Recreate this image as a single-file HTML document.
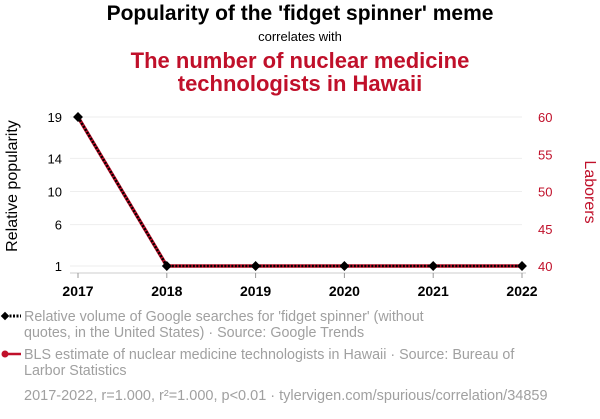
<!DOCTYPE html>
<html><head><meta charset="utf-8"><style>
body{margin:0;width:600px;height:414px;background:#fff;font-family:"Liberation Sans",sans-serif;overflow:hidden}
svg text{font-family:"Liberation Sans",sans-serif}
</style></head><body>
<svg width="600" height="414">
<text x="300" y="20" text-anchor="middle" font-size="21" font-weight="bold" fill="#000">Popularity of the 'fidget spinner' meme</text>
<text x="300" y="41" text-anchor="middle" font-size="13" fill="#000">correlates with</text>
<text x="300" y="68" text-anchor="middle" font-size="22" font-weight="bold" fill="#c0102a">The number of nuclear medicine</text>
<text x="300" y="91" text-anchor="middle" font-size="22" font-weight="bold" fill="#c0102a">technologists in Hawaii</text>
<g id="grid"></g>
<g id="axes"></g>
<g id="series"></g>
<text transform="translate(17,186) rotate(-90)" text-anchor="middle" font-size="16" fill="#000">Relative popularity</text>
<text transform="translate(585,192) rotate(90)" text-anchor="middle" font-size="16" fill="#c0102a">Laborers</text>
<g>
<line x1="6" y1="316" x2="21" y2="316" stroke="#000" stroke-width="3" stroke-dasharray="2,1.5"/>
<rect x="2" y="313" width="6" height="6" transform="rotate(45 5 316)" fill="#000"/>
<text x="24" y="321" font-size="14.3" fill="#a0a0a0">Relative volume of Google searches for 'fidget spinner' (without</text>
<text x="24" y="337" font-size="14.3" fill="#a0a0a0">quotes, in the United States) · Source: Google Trends</text>
</g>
<g>
<line x1="4" y1="354" x2="21" y2="354" stroke="#c0102a" stroke-width="2.5"/>
<circle cx="5" cy="354" r="3.5" fill="#c0102a"/>
<text x="24" y="359" font-size="14.3" fill="#a0a0a0">BLS estimate of nuclear medicine technologists in Hawaii · Source: Bureau of</text>
<text x="24" y="375" font-size="14.3" fill="#a0a0a0">Larbor Statistics</text>
</g>
<text x="24" y="400" font-size="14.5" fill="#a0a0a0">2017-2022, r=1.000, r²=1.000, p&lt;0.01 · tylervigen.com/spurious/correlation/34859</text>
</svg>
<script>
const years=[2017,2018,2019,2020,2021,2022];
const googleVals=[19,1,1,1,1,1];
const blsVals=[60,40,40,40,40,40];
const leftTicks=[1,6,10,14,19];
const rightTicks=[40,45,50,55,60];
const NS="http://www.w3.org/2000/svg";
const X0=78,X1=522,YT=117,YB=266;
const xs=y=>X0+(y-years[0])/(years[years.length-1]-years[0])*(X1-X0);
const yl=v=>YB-(v-1)/(19-1)*(YB-YT);
const yr=v=>YB-(v-40)/(60-40)*(YB-YT);
function mk(tag,attrs,parent,text){const e=document.createElementNS(NS,tag);for(const k in attrs)e.setAttribute(k,attrs[k]);if(text!==undefined)e.textContent=text;parent.appendChild(e);return e;}
const grid=document.getElementById('grid'),axes=document.getElementById('axes'),ser=document.getElementById('series');
leftTicks.forEach(t=>{
 const g=mk('line',{x1:X0-8,x2:X1,y1:yl(t),y2:yl(t),stroke:'#eeeeee','stroke-width':1},grid);
 
 
 const l=mk('text',{x:62,y:yl(t)+5,'text-anchor':'end','font-size':13,fill:'#000'},axes,String(t));
 
 
});
rightTicks.forEach(t=>{
 const l=mk('text',{x:538,y:yr(t)+5,'text-anchor':'start','font-size':13,fill:'#c0102a'},axes,String(t));
 
 
});
const ax=mk('line',{x1:X0-8,x2:X1+4,y1:273,y2:273,stroke:'#cccccc','stroke-width':1},axes);


years.forEach(y=>{
 const t=mk('line',{x1:xs(y),x2:xs(y),y1:273,y2:278,stroke:'#999','stroke-width':1},axes);
 
 
 const l=mk('text',{x:xs(y),y:296,'text-anchor':'middle','font-size':14,'font-weight':'bold',fill:'#000'},axes,String(y));
 
 
});
const bp=mk('polyline',{points:years.map((y,i)=>xs(y)+','+yr(blsVals[i])).join(' '),fill:'none',stroke:'#c0102a','stroke-width':3.5},ser);


const gp=mk('polyline',{points:years.map((y,i)=>xs(y)+','+yl(googleVals[i])).join(' '),fill:'none',stroke:'#000','stroke-width':2.5,'stroke-dasharray':'2,1.5'},ser);


years.forEach((y,i)=>{
 const cx=xs(y),cy=yl(googleVals[i]);
 const m=mk('rect',{x:cx-3.5,y:cy-3.5,width:7,height:7,fill:'#000',transform:`rotate(45 ${cx} ${cy})`},ser);
 
 
});
</script>
</body></html>
